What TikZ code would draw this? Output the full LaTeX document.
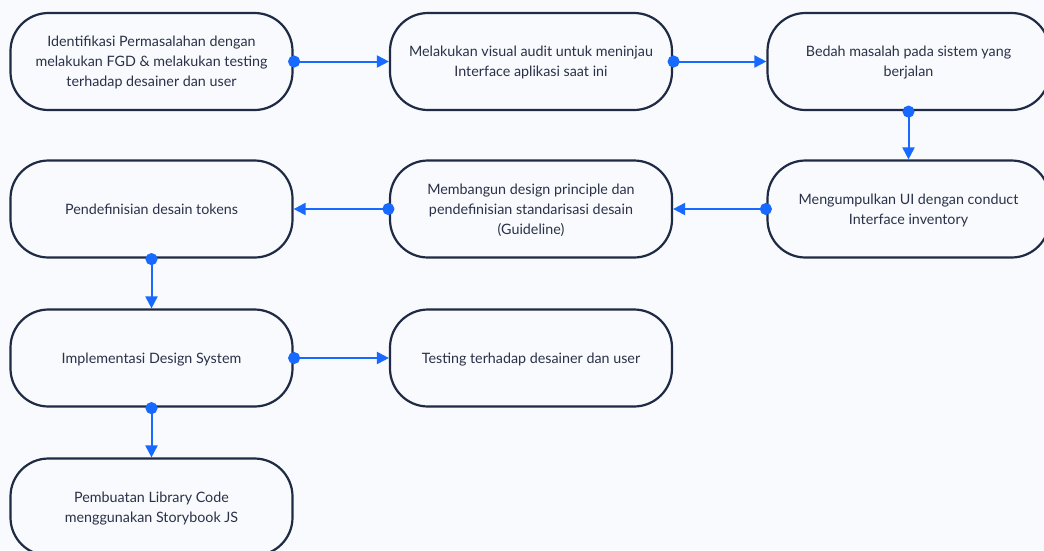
\documentclass[tikz,border=0pt]{standalone}
\usepackage{fontspec}
\setmainfont{Lato}
\usetikzlibrary{arrows.meta}

\definecolor{navy}{HTML}{1F2A44}
\definecolor{ink}{HTML}{2A3148}
\definecolor{flowblue}{HTML}{1769FF}
\definecolor{paper}{HTML}{F8FAFD}

\tikzset{
    stage/.style={draw=navy, line width=2.2pt, fill=paper, rounded corners=38pt,
        minimum width=282pt, minimum height=97pt, align=center, text=ink,
        font=\fontsize{14.3pt}{20pt}\selectfont, inner sep=0pt, text depth=0pt},
    flow/.style={draw=flowblue, line width=2pt, shorten <=-5.5pt,
        {Circle[length=12pt]}-{Triangle[length=12pt,width=12pt]}}
}

\begin{document}
\begin{tikzpicture}[x=1pt, y=-1pt]
        \useasboundingbox[fill=paper] (0,0) rectangle (1044,550);

        \node[stage] (a) at (151.5,61.5) {Identifikasi Permasalahan dengan\\melakukan FGD \& melakukan testing\\terhadap desainer dan user};
        \node[stage] (b) at (531,61.5) {Melakukan visual audit untuk meninjau\\Interface aplikasi saat ini};
        \node[stage] (c) at (908.5,61.5) {Bedah masalah pada sistem yang\\berjalan};

        \node[stage] (d) at (908.5,209) {Mengumpulkan UI dengan conduct\\Interface inventory};
        \node[stage] (e) at (531,209) {Membangun design principle dan\\pendefinisian standarisasi desain\\(Guideline)};
        \node[stage] (f) at (151.5,209) {Pendefinisian desain tokens};

        \node[stage] (g) at (151.5,358) {Implementasi Design System};
        \node[stage] (h) at (531,358) {Testing terhadap desainer dan user};

        \node[stage] (i) at (151.5,507) {Pembuatan Library Code\\menggunakan Storybook JS};

        \draw[flow] (a.east) -- (b.west);
        \draw[flow] (b.east) -- (c.west);
        \draw[flow] (c.south) -- (d.north);
        \draw[flow] (d.west) -- (e.east);
        \draw[flow] (e.west) -- (f.east);
        \draw[flow] (f.south) -- (g.north);
        \draw[flow] (g.east) -- (h.west);
        \draw[flow] (g.south) -- (i.north);
\end{tikzpicture}
\end{document}
